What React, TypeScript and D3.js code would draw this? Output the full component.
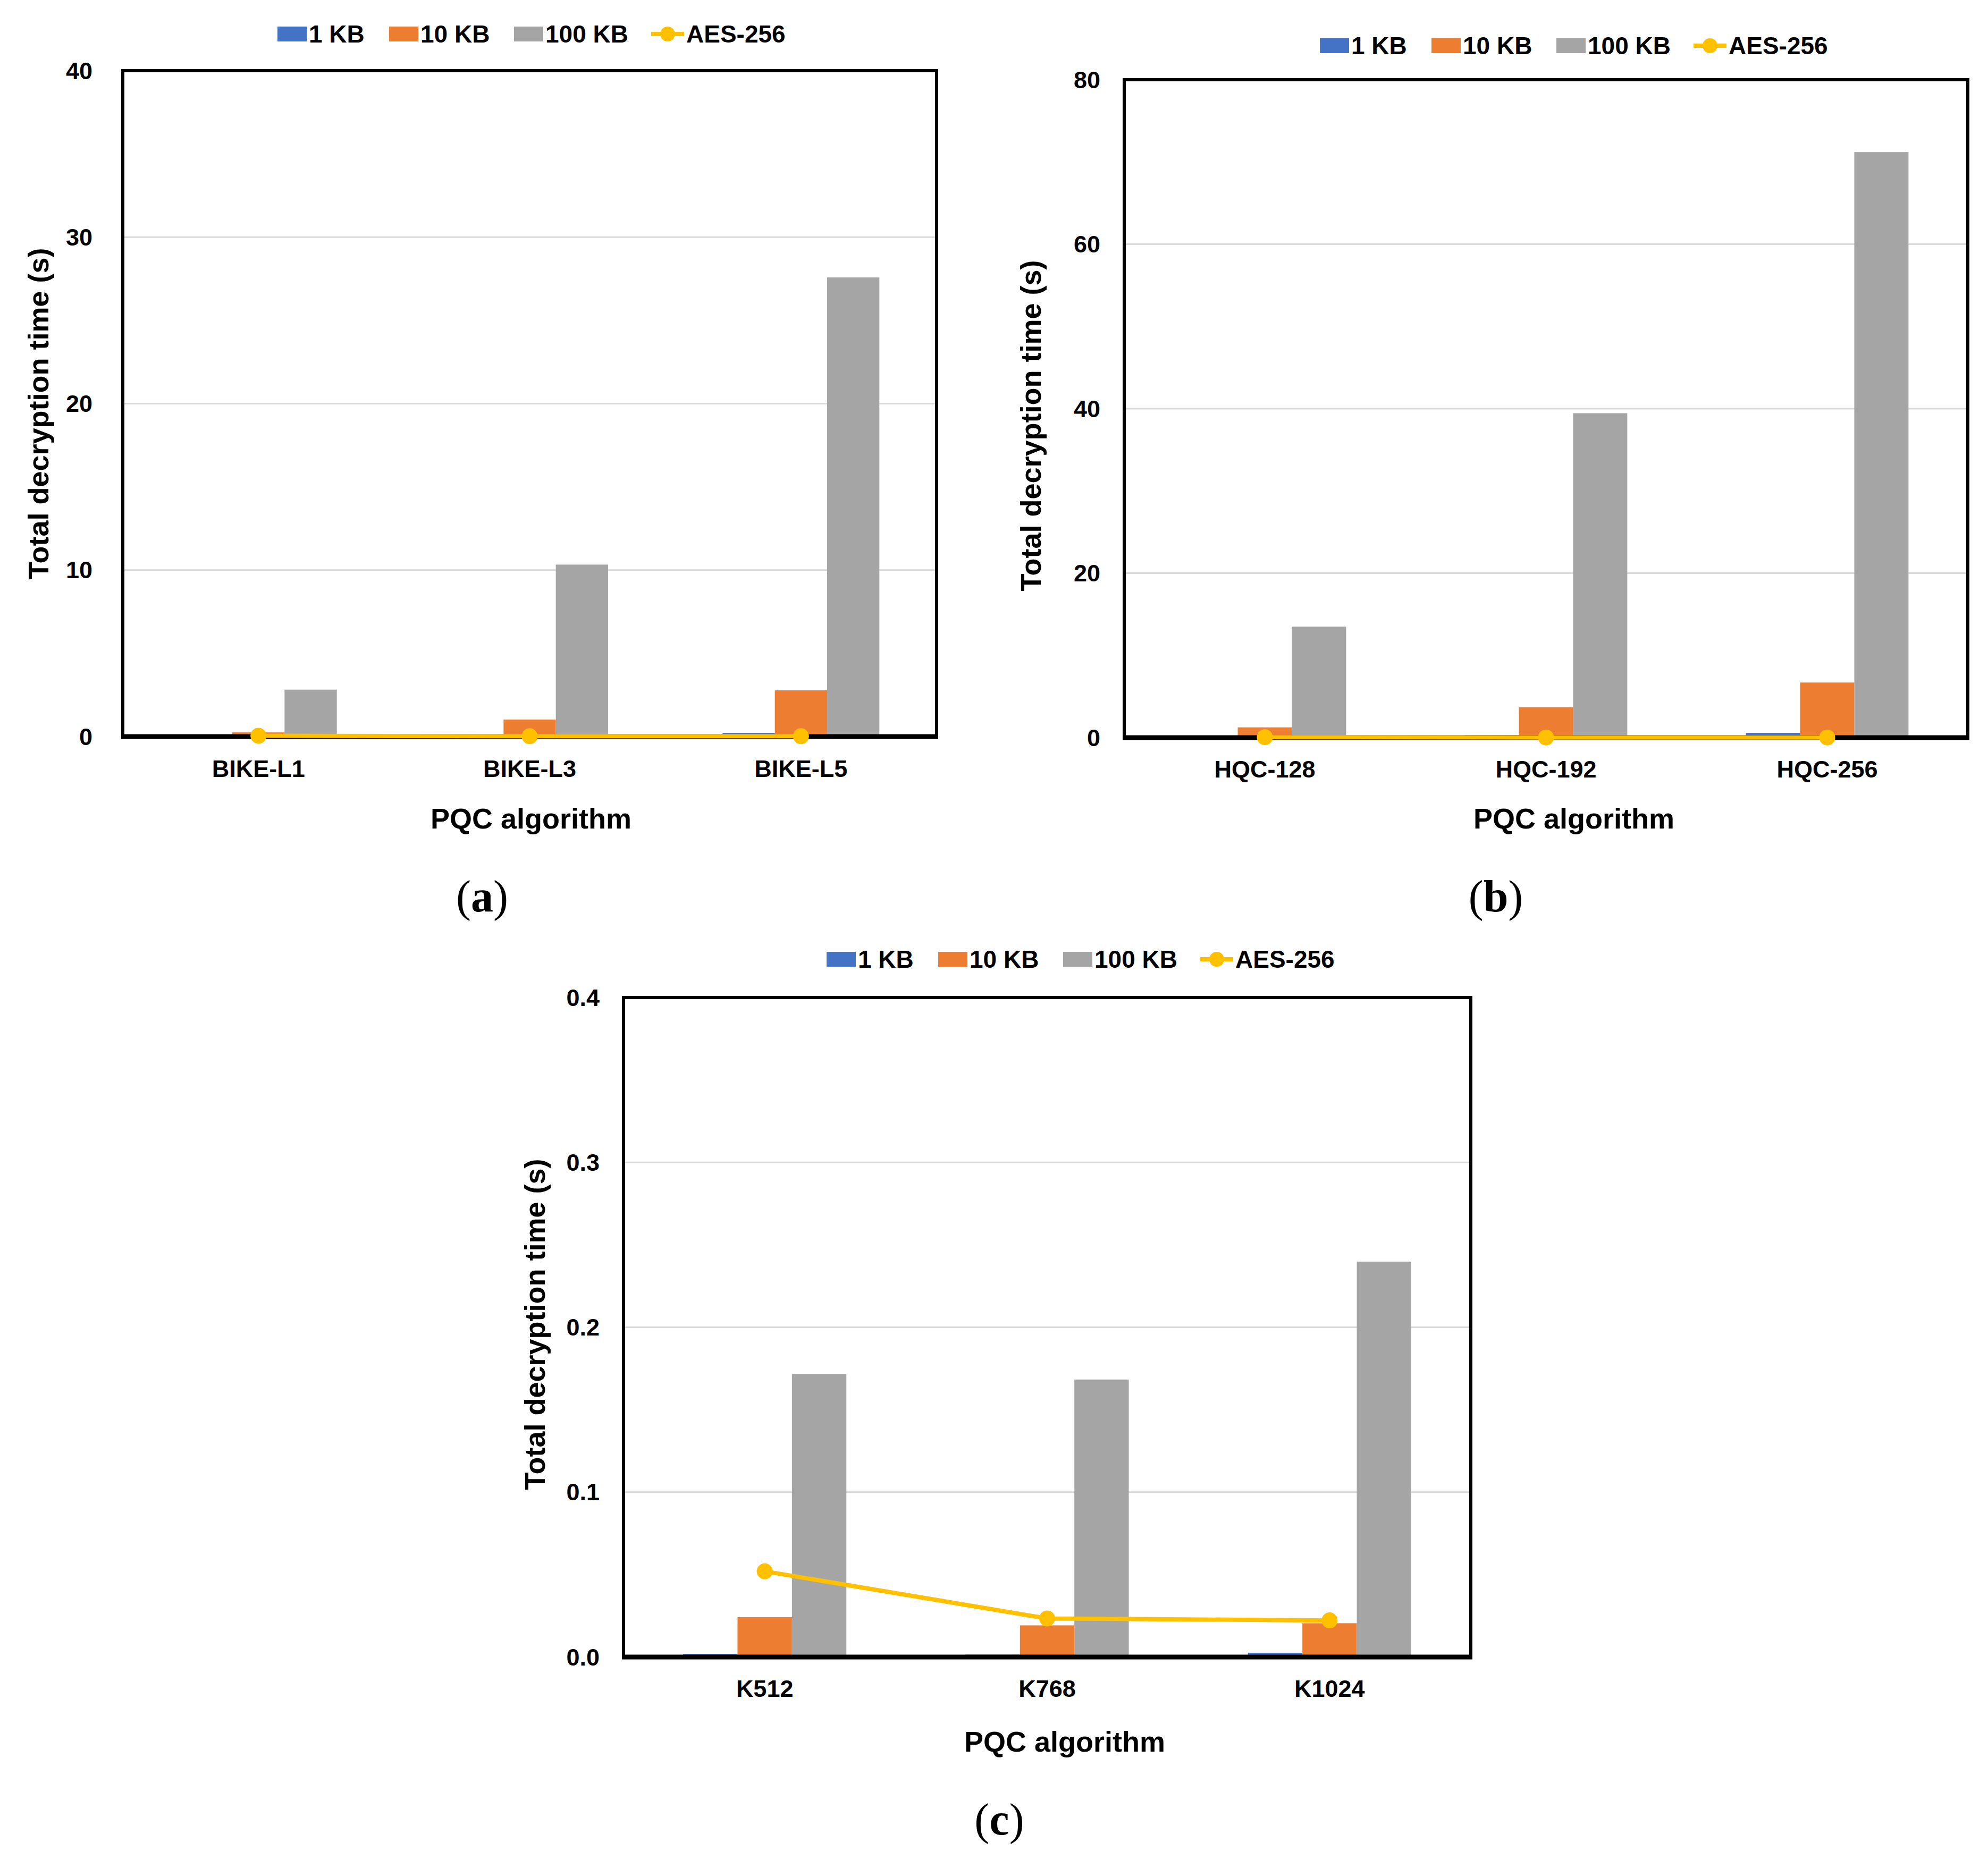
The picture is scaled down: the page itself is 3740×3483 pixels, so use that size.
import React from "react";
import * as d3 from "d3";

// ---------- data ----------
const SERIES = ["1 KB", "10 KB", "100 KB", "AES-256"];
const COLORS = ["#4472C4", "#ED7D31", "#A5A5A5", "#FFC000"];

const CATS_A = ["BIKE-L1", "BIKE-L3", "BIKE-L5"];
const A_1KB = [0.02, 0.07, 0.22];
const A_10KB = [0.25, 1.02, 2.78];
const A_100KB = [2.82, 10.33, 27.58];
const A_AES = [0.05, 0.02, 0.02];
const TICKS_A = [0, 10, 20, 30, 40];

const CATS_B = ["HQC-128", "HQC-192", "HQC-256"];
const B_1KB = [0.08, 0.3, 0.58];
const B_10KB = [1.25, 3.7, 6.7];
const B_100KB = [13.5, 39.45, 71.2];
const B_AES = [0.05, 0.02, 0.02];
const TICKS_B = [0, 20, 40, 60, 80];

const CATS_C = ["K512", "K768", "K1024"];
const C_1KB = [0.0019, 0.0015, 0.0026];
const C_10KB = [0.0242, 0.0192, 0.0205];
const C_100KB = [0.1717, 0.1683, 0.2398];
const C_AES = [0.052, 0.0234, 0.0222];
const TICKS_C = [0, 0.1, 0.2, 0.3, 0.4];

const Y_TITLE = "Total decryption time (s)";
const X_TITLE = "PQC algorithm";

// ---------- layout ----------
const SANS = "'Liberation Sans', Arial, sans-serif";
const SERIF = "'Liberation Serif', 'DejaVu Serif', serif";
const LEGEND_OFFSETS = [0, 210, 445, 703];

type PanelProps = {
  cats: string[];
  bars: number[][];
  line: number[];
  ticks: number[];
  fmt: (v: number) => string;
  box: { l: number; r: number; t: number; b: number };
  tickGap: number;
  yTitleX: number;
  yTitleY: number;
  xTitleX: number;
  xTitleY: number;
  catY: number;
  legendX: number;
  legendY: number;
  caption: string;
  capX: number;
  capY: number;
};

function Panel(p: PanelProps) {
  const { box } = p;
  const x = d3.scaleBand<string>().domain(p.cats).range([box.l, box.r]).paddingInner(0).paddingOuter(0);
  const y = d3.scaleLinear().domain([p.ticks[0], p.ticks[p.ticks.length - 1]]).range([box.b, box.t]);
  const bw = x.bandwidth() / 5.19;
  const inner = d3.scaleBand<number>().domain([0, 1, 2]).range([-1.5 * bw, 1.5 * bw]);
  const cx = (c: string) => (x(c) as number) + x.bandwidth() / 2;
  const linePath = d3
    .line<number>()
    .x((_, i) => cx(p.cats[i]))
    .y((v) => y(v))(p.line) as string;

  return (
    <g>
      {/* gridlines */}
      {p.ticks.slice(1, -1).map((t) => (
        <line key={"g" + t} x1={box.l} x2={box.r} y1={y(t)} y2={y(t)} stroke="#D9D9D9" strokeWidth={3} />
      ))}
      {/* bars */}
      {p.bars.map((vals, si) =>
        vals.map((v, ci) => (
          <rect
            key={"b" + si + "-" + ci}
            x={cx(p.cats[ci]) + (inner(si) as number)}
            width={bw}
            y={y(v)}
            height={y(0) - y(v)}
            fill={COLORS[si]}
          />
        ))
      )}
      {/* frame */}
      <rect x={box.l} y={box.t} width={box.r - box.l} height={box.b - box.t} fill="none" stroke="#000" strokeWidth={6} />
      <line x1={box.l - 3} x2={box.r + 3} y1={y(0)} y2={y(0)} stroke="#000" strokeWidth={9} />
      {/* AES line */}
      <path d={linePath} fill="none" stroke={COLORS[3]} strokeWidth={8} />
      {p.line.map((v, i) => (
        <circle key={"m" + i} cx={cx(p.cats[i])} cy={y(v)} r={15} fill={COLORS[3]} />
      ))}
      {/* y ticks */}
      {p.ticks.map((t) => (
        <text
          key={"t" + t}
          x={box.l - p.tickGap}
          y={y(t)}
          textAnchor="end"
          dominantBaseline="central"
          fontFamily={SANS}
          fontWeight="bold"
          fontSize={45}
        >
          {p.fmt(t)}
        </text>
      ))}
      {/* category labels */}
      {p.cats.map((c) => (
        <text
          key={"c" + c}
          x={cx(c)}
          y={p.catY}
          textAnchor="middle"
          dominantBaseline="central"
          fontFamily={SANS}
          fontWeight="bold"
          fontSize={45}
        >
          {c}
        </text>
      ))}
      {/* axis titles */}
      <text
        x={p.xTitleX}
        y={p.xTitleY}
        textAnchor="middle"
        dominantBaseline="central"
        fontFamily={SANS}
        fontWeight="bold"
        fontSize={54}
      >
        {X_TITLE}
      </text>
      <text
        transform={`translate(${p.yTitleX},${p.yTitleY}) rotate(-90)`}
        textAnchor="middle"
        dominantBaseline="central"
        fontFamily={SANS}
        fontWeight="bold"
        fontSize={54}
      >
        {Y_TITLE}
      </text>
      {/* legend */}
      {SERIES.map((s, i) => {
        const lx = p.legendX + LEGEND_OFFSETS[i];
        const isLine = i === 3;
        const w = isLine ? 62 : 55;
        return (
          <g key={"l" + i}>
            {isLine ? (
              <g>
                <line x1={lx} x2={lx + w} y1={p.legendY} y2={p.legendY} stroke={COLORS[i]} strokeWidth={8} />
                <circle cx={lx + w / 2} cy={p.legendY} r={14} fill={COLORS[i]} />
              </g>
            ) : (
              <rect x={lx} y={p.legendY - 14} width={w} height={28} fill={COLORS[i]} />
            )}
            <text
              x={lx + w + 4}
              y={p.legendY}
              dominantBaseline="central"
              fontFamily={SANS}
              fontWeight="bold"
              fontSize={46}
            >
              {s}
            </text>
          </g>
        );
      })}
      {/* caption */}
      <text
        x={p.capX}
        y={p.capY}
        textAnchor="middle"
        dominantBaseline="central"
        fontFamily={SERIF}
        fontSize={84}
      >
        (<tspan fontWeight="bold">{p.caption}</tspan>)
      </text>
    </g>
  );
}

export default function App() {
  const f0 = d3.format("d");
  const f1 = d3.format(".1f");
  return (
    <svg
      width={3740}
      height={3483}
      viewBox="0 0 3740 3483"
      style={{ position: "absolute", left: 0, top: 0, display: "block", background: "#fff" }}
    >
      <rect width={3740} height={3483} fill="#fff" />
      <Panel
        cats={CATS_A}
        bars={[A_1KB, A_10KB, A_100KB]}
        line={A_AES}
        ticks={TICKS_A}
        fmt={f0}
        box={{ l: 231, r: 1762, t: 133, b: 1386 }}
        tickGap={57}
        yTitleX={72}
        yTitleY={778}
        xTitleX={999}
        xTitleY={1540}
        catY={1446}
        legendX={522}
        legendY={64}
        caption="a"
        capX={907}
        capY={1686}
      />
      <Panel
        cats={CATS_B}
        bars={[B_1KB, B_10KB, B_100KB]}
        line={B_AES}
        ticks={TICKS_B}
        fmt={f0}
        box={{ l: 2115, r: 3702, t: 150, b: 1388 }}
        tickGap={45}
        yTitleX={1939}
        yTitleY={801}
        xTitleX={2961}
        xTitleY={1540}
        catY={1447}
        legendX={2483}
        legendY={86}
        caption="b"
        capX={2814}
        capY={1686}
      />
      <Panel
        cats={CATS_C}
        bars={[C_1KB, C_10KB, C_100KB]}
        line={C_AES}
        ticks={TICKS_C}
        fmt={f1}
        box={{ l: 1173, r: 2767, t: 1877, b: 3118 }}
        tickGap={45}
        yTitleX={1006}
        yTitleY={2492}
        xTitleX={2003}
        xTitleY={3277}
        catY={3177}
        legendX={1555}
        legendY={1805}
        caption="c"
        capX={1880}
        capY={3423}
      />
    </svg>
  );
}
